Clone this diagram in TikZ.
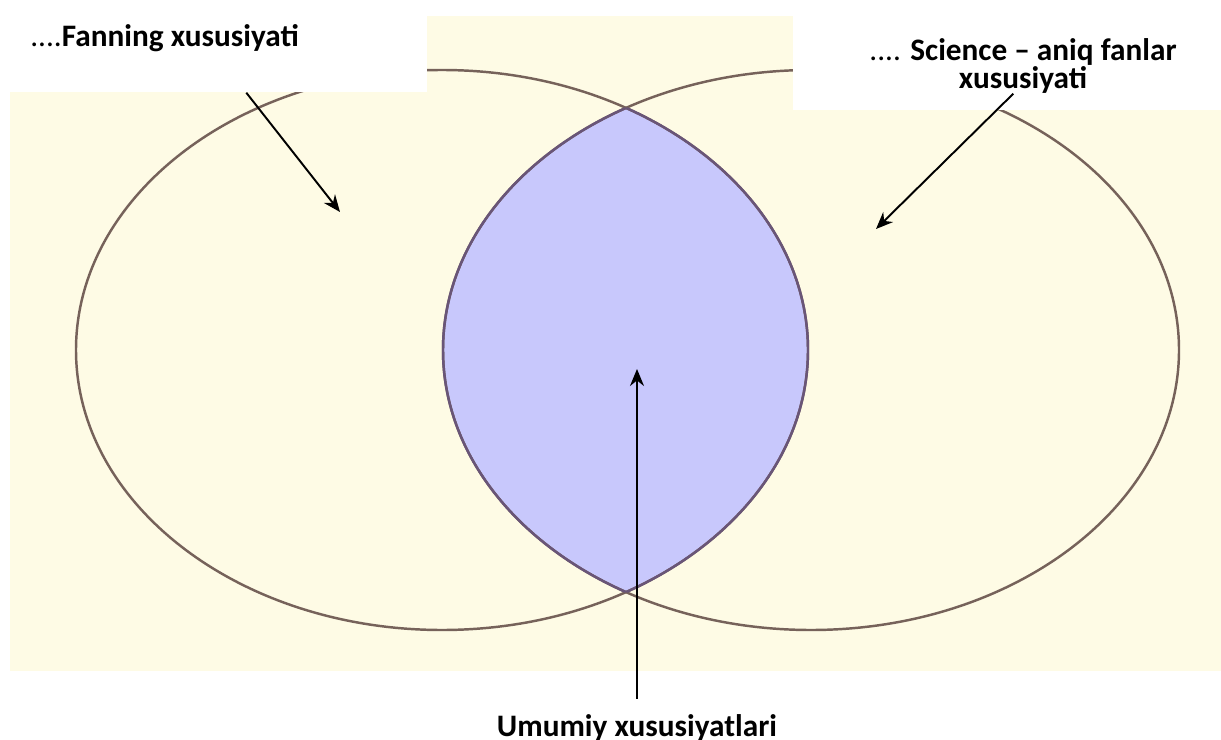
\documentclass[tikz,border=0pt]{standalone}
\usepackage{fontspec}
\setmainfont{Carlito}
\usetikzlibrary{arrows.meta}
\definecolor{cream}{RGB}{254,251,229}
\definecolor{lensblue}{RGB}{200,200,252}
\definecolor{rimbrown}{RGB}{118,98,90}
\definecolor{rimpurple}{RGB}{105,85,120}

\begin{document}
\begin{tikzpicture}[x=0.02cm,y=-0.02cm,
    whitebox/.style={
        rectangle,
        fill=white,
        draw=none,
        inner sep=0pt,
        anchor=north west
    },
    labeltext/.style={
        inner sep=0pt,
        align=center,
        font=\fontsize{17.8}{14}\selectfont
    },
    vennline/.style={
        draw=rimbrown,
        line width=1.4pt
    },
    arrow/.style={
        -{Stealth[length=0.34cm,width=0.28cm]},
        line width=1.1pt
    }
]
    \useasboundingbox (0,0) rectangle (1221,740);
    \fill[cream] (10,16) rectangle (1221,671);

    \begin{scope}
        \clip (442,350) ellipse [x radius=366, y radius=280];
        \fill[lensblue] (811,350) ellipse [x radius=368, y radius=280];
    \end{scope}
    \draw[vennline] (442,350) ellipse [x radius=366, y radius=280];
    \draw[vennline] (811,350) ellipse [x radius=368, y radius=280];
    \begin{scope}
        \clip (442,350) ellipse [x radius=366, y radius=280];
        \draw[vennline, draw=rimpurple] (811,350) ellipse [x radius=368, y radius=280];
    \end{scope}
    \begin{scope}
        \clip (811,350) ellipse [x radius=368, y radius=280];
        \draw[vennline, draw=rimpurple] (442,350) ellipse [x radius=366, y radius=280];
    \end{scope}

    \node[whitebox, minimum width=8.54cm, minimum height=1.52cm] (fanbox) at (0,16) {};
    \node[whitebox, minimum width=8.6cm, minimum height=2.2cm] (scibox) at (793,0) {};

    \node[labeltext, anchor=base west] (fantext) at (30,47) {....\textbf{Fanning xususiyati}};
    \node[labeltext] (scitext) at (1023,66) {.... \textbf{Science – aniq fanlar}\\\textbf{xususiyati}};
    \node[labeltext, anchor=base, inner ysep=0.3cm] (umumiy) at (637,736) {\textbf{Umumiy xususiyatlari}};

    \coordinate (fantip) at (340,212);
    \coordinate (scitip) at (876,229);
    \coordinate (lenstip) at (637,369);

    \draw[arrow] ([xshift=0.65cm]fanbox.south) -- (fantip);
    \draw[arrow] ([xshift=0.1cm,yshift=0.34cm]scibox.south) -- (scitip);
    \draw[arrow] (umumiy.north) -- (lenstip);
\end{tikzpicture}
\end{document}
